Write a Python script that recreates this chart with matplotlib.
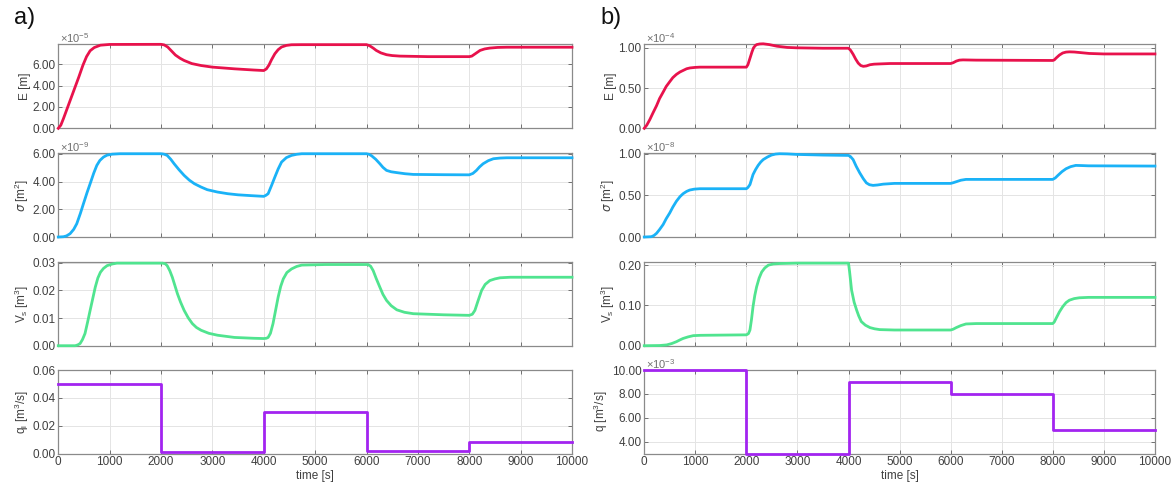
import numpy as np
import matplotlib.pyplot as plt

#### DATA ####
# a) column
tE_a = [0, 50, 100, 200, 300, 400, 480, 550, 620, 700, 820, 1000, 2000, 2060, 2130, 2200, 2280, 2370, 2450,
        2600, 2780, 3000, 3430, 3800, 4000, 4050, 4100, 4150, 4216, 4280, 4346, 4440, 4540, 4740, 6000,
        6060, 6130, 6190, 6280, 6390, 6500, 6650, 7200, 8000, 8050, 8120, 8210, 8300, 8400, 8550, 8730, 10000]
E_a = [0, 0.3, 0.9, 2.2, 3.5, 4.8, 5.9, 6.7, 7.25, 7.55, 7.77, 7.84, 7.85, 7.8, 7.6, 7.25, 6.85, 6.55, 6.34,
       6.05, 5.87, 5.72, 5.56, 5.45, 5.4, 5.55, 5.9, 6.4, 6.97, 7.35, 7.6, 7.75, 7.81, 7.82, 7.82,
       7.72, 7.5, 7.28, 7.05, 6.88, 6.8, 6.75, 6.7, 6.7, 6.75, 6.98, 7.28, 7.42, 7.5, 7.56, 7.58, 7.58]  # x1e-5

tS_a = [0, 100, 160, 230, 300, 360, 430, 490, 560, 620, 690, 750, 810, 880, 950, 1050, 1200, 2000, 2060,
        2120, 2190, 2255, 2350, 2450, 2550, 2650, 2780, 2900, 3100, 3300, 3500, 3760, 4000, 4040, 4085,
        4150, 4216, 4280, 4346, 4440, 4540, 4640, 4740, 6000, 6050, 6100, 6180, 6260, 6320, 6390, 6480,
        6590, 6750, 6910, 7500, 8000, 8070, 8140, 8200, 8270, 8370, 8470, 8600, 8730, 10000]
S_a = [0, 0.02, 0.08, 0.24, 0.55, 0.96, 1.7, 2.4, 3.2, 3.84, 4.6, 5.16, 5.52, 5.76, 5.9, 5.97, 6.0, 6.0, 5.97,
       5.88, 5.6, 5.28, 4.85, 4.44, 4.1, 3.84, 3.6, 3.41, 3.24, 3.12, 3.04, 2.98, 2.93, 3.0, 3.12,
       3.7, 4.32, 4.9, 5.4, 5.72, 5.88, 5.96, 6.0, 6.0, 5.96, 5.85, 5.6, 5.28, 5.02, 4.8, 4.7,
       4.64, 4.56, 4.51, 4.49, 4.48, 4.58, 4.8, 5.05, 5.28, 5.5, 5.64, 5.69, 5.71, 5.71]  # x1e-9

tV_a = [0, 330, 380, 425, 470, 520, 570, 620, 670, 720, 770, 820, 880, 950, 1050, 1140, 2030, 2080, 2120,
        2170, 2220, 2270, 2320, 2380, 2450, 2530, 2610, 2690, 2780, 2930, 3100, 3430, 3800, 4000, 4050,
        4085, 4130, 4180, 4230, 4280, 4330, 4380, 4450, 4540, 4640, 4740, 5200, 6030, 6080, 6130, 6190,
        6260, 6320, 6390, 6480, 6590, 6740, 6910, 7500, 8000, 8060, 8110, 8170, 8240, 8310, 8400, 8500,
        8600, 8800, 10000]
V_a = [0, 0, 0.0003, 0.0008, 0.0022, 0.0044, 0.0085, 0.0128, 0.017, 0.0212, 0.0245, 0.0266, 0.028, 0.029,
       0.0296, 0.0299, 0.0299, 0.0297, 0.029, 0.0272, 0.0248, 0.0218, 0.0188, 0.0158, 0.0128, 0.0101,
       0.008, 0.0066, 0.0056, 0.0045, 0.0038, 0.003, 0.0027, 0.0026, 0.0027, 0.003, 0.0045, 0.008, 0.0128,
       0.0176, 0.0215, 0.0242, 0.0265, 0.0278, 0.0287, 0.0292, 0.0294, 0.0294, 0.0288, 0.0272, 0.0243,
       0.0212, 0.0186, 0.0164, 0.0145, 0.013, 0.0121, 0.0116, 0.0112, 0.011, 0.0114, 0.0128, 0.0162, 0.02,
       0.0222, 0.0236, 0.0242, 0.0246, 0.0248, 0.0248]

tq = [0, 2000, 4000, 6000, 8000, 10000]
q_a = [0.05, 0.001, 0.03, 0.002, 0.008]

# b) column
tE_b = [0, 50, 110, 170, 240, 300, 370, 430, 500, 560, 630, 700, 765, 830, 895, 1000, 1090, 2000, 2030,
        2070, 2110, 2140, 2170, 2200, 2260, 2330, 2450, 2600, 2800, 2990, 3500, 4000, 4040, 4090, 4140,
        4190, 4240, 4290, 4350, 4420, 4500, 4610, 4810, 6000, 6050, 6110, 6170, 6240, 6500, 8000, 8030,
        8065, 8130, 8195, 8260, 8325, 8420, 8520, 8715, 9000, 10000]
E_b = [0, 0.04, 0.11, 0.19, 0.28, 0.37, 0.45, 0.52, 0.58, 0.63, 0.67, 0.70, 0.72, 0.74, 0.75, 0.757, 0.76,
       0.76, 0.79, 0.87, 0.95, 1.0, 1.025, 1.04, 1.048, 1.05, 1.04, 1.02, 1.005, 1.0, 0.995, 0.995, 0.97,
       0.92, 0.86, 0.81, 0.78, 0.77, 0.775, 0.79, 0.797, 0.80, 0.805, 0.805, 0.815, 0.835, 0.847, 0.85,
       0.847, 0.843, 0.85, 0.873, 0.91, 0.936, 0.947, 0.95, 0.948, 0.942, 0.93, 0.924, 0.924]  # x1e-4

tS_b = [0, 140, 190, 240, 300, 370, 430, 500, 560, 630, 700, 760, 830, 890, 980, 1090, 2000, 2030, 2070,
        2100, 2130, 2180, 2230, 2280, 2330, 2410, 2490, 2570, 2650, 2800, 2980, 3500, 4000, 4040, 4090,
        4150, 4220, 4290, 4350, 4410, 4480, 4570, 4680, 4900, 6000, 6050, 6110, 6200, 6300, 8000, 8050,
        8100, 8180, 8260, 8350, 8450, 8570, 8700, 10000]
S_b = [0, 0.004, 0.018, 0.044, 0.09, 0.15, 0.22, 0.29, 0.36, 0.43, 0.485, 0.52, 0.548, 0.564, 0.575, 0.58,
       0.58, 0.595, 0.63, 0.69, 0.75, 0.81, 0.86, 0.9, 0.93, 0.96, 0.984, 0.996, 1.0, 0.998, 0.992, 0.984,
       0.98, 0.965, 0.93, 0.85, 0.77, 0.7, 0.65, 0.628, 0.62, 0.625, 0.635, 0.644, 0.644, 0.652, 0.664,
       0.682, 0.692, 0.692, 0.71, 0.74, 0.785, 0.82, 0.845, 0.86, 0.858, 0.855, 0.852]  # x1e-8

tV_b = [0, 300, 440, 540, 630, 700, 760, 860, 960, 1100, 1220, 2000, 2040, 2070, 2100, 2130, 2165, 2200,
        2250, 2300, 2360, 2430, 2530, 2650, 3000, 4000, 4020, 4060, 4110, 4160, 4200, 4250, 4330, 4420,
        4510, 4610, 4900, 6000, 6050, 6110, 6200, 6300, 6500, 8000, 8030, 8065, 8130, 8195, 8260, 8325,
        8420, 8520, 8700, 10000]
V_b = [0, 0.0005, 0.002, 0.0055, 0.01, 0.0145, 0.018, 0.022, 0.025, 0.0258, 0.026, 0.027, 0.03, 0.039,
       0.065, 0.097, 0.125, 0.146, 0.168, 0.183, 0.193, 0.2, 0.203, 0.204, 0.205, 0.205, 0.185, 0.138,
       0.108, 0.088, 0.074, 0.06, 0.051, 0.045, 0.042, 0.04, 0.039, 0.039, 0.041, 0.045, 0.05, 0.054,
       0.055, 0.055, 0.059, 0.068, 0.084, 0.097, 0.107, 0.113, 0.117, 0.119, 0.12, 0.12]

q_b = [10, 3, 9, 8, 5]  # x1e-3

xticks = list(range(0, 10001, 1000))

#### STYLE ####
plt.rcParams['font.family'] = ['Liberation Sans', 'DejaVu Sans']
plt.rcParams['mathtext.default'] = 'regular'
txt = '#404040'
red, blue, green, purple = '#e8124c', '#1ab2f7', '#50e48f', '#a224f0'

fig = plt.figure(figsize=(11.75, 4.84), dpi=100)

lefts = [0.0496, 0.5483]
widths = [0.4372, 0.4346]
bottoms = [0.7349, 0.5103, 0.2857, 0.0630]
heights = [0.1746, 0.1729, 0.1723, 0.1725]


def make_ax(col, row):
    ax = fig.add_axes([lefts[col], bottoms[row], widths[col], heights[row]])
    ax.set_xlim(0, 10000)
    ax.set_xticks(xticks)
    ax.grid(True, color='#e4e4e4', lw=0.7)
    ax.set_axisbelow(True)
    ax.tick_params(direction='in', top=True, right=True, length=3, width=0.7,
                   color='#707070', labelsize=8.5, labelcolor=txt, pad=2)
    for s in ax.spines.values():
        s.set_color('#8a8a8a')
        s.set_linewidth(0.9)
    if row < 3:
        ax.set_xticklabels([])
    else:
        ax.set_xlabel('time [s]', fontsize=8.5, color=txt, labelpad=1)
    return ax


def exp_label(ax, s):
    ax.text(0.003, 0.99, r'$\times10^{' + s + '}$', transform=ax.transAxes,
            fontsize=8, color='#707070', va='bottom', ha='left')


def fmt(ax, ticks, dec=2):
    ax.set_yticks(ticks)
    ax.set_yticklabels([f'{v:.{dec}f}' for v in ticks])


lw = 2.0
line = dict(lw=lw, clip_on=False, zorder=3)
ylab = dict(fontsize=8.5, color=txt, labelpad=1)

#### a) ####
ax = make_ax(0, 0)
ax.plot(tE_a, E_a, color=red, **line)
ax.set_ylim(0, 7.9)
fmt(ax, [0, 2, 4, 6])
exp_label(ax, '-5')
ax.set_ylabel('E [m]', **ylab)

ax = make_ax(0, 1)
ax.plot(tS_a, S_a, color=blue, **line)
ax.set_ylim(0, 6.03)
fmt(ax, [0, 2, 4, 6])
exp_label(ax, '-9')
ax.set_ylabel(r'$\mathit{\sigma}$ [m$^2$]', **ylab)

ax = make_ax(0, 2)
ax.plot(tV_a, V_a, color=green, **line)
ax.set_ylim(0, 0.0302)
fmt(ax, [0, 0.01, 0.02, 0.03])
ax.set_ylabel('V$_s$ [m$^3$]', **ylab)

ax = make_ax(0, 3)
ax.step(tq, q_a + [q_a[-1]], where='post', color=purple, **line)
ax.set_ylim(0, 0.06)
fmt(ax, [0, 0.02, 0.04, 0.06])
ax.set_ylabel('q$_l$ [m$^3$/s]', **ylab)

#### b) ####
ax = make_ax(1, 0)
ax.plot(tE_b, E_b, color=red, **line)
ax.set_ylim(0, 1.05)
fmt(ax, [0, 0.5, 1.0])
exp_label(ax, '-4')
ax.set_ylabel('E [m]', **ylab)

ax = make_ax(1, 1)
ax.plot(tS_b, S_b, color=blue, **line)
ax.set_ylim(0, 1.005)
fmt(ax, [0, 0.5, 1.0])
exp_label(ax, '-8')
ax.set_ylabel(r'$\mathit{\sigma}$ [m$^2$]', **ylab)

ax = make_ax(1, 2)
ax.plot(tV_b, V_b, color=green, **line)
ax.set_ylim(0, 0.207)
fmt(ax, [0, 0.1, 0.2])
ax.set_ylabel('V$_s$ [m$^3$]', **ylab)

ax = make_ax(1, 3)
ax.step(tq, q_b + [q_b[-1]], where='post', color=purple, **line)
ax.set_ylim(3, 10)
fmt(ax, [4, 6, 8, 10])
exp_label(ax, '-3')
ax.set_ylabel('q [m$^3$/s]', **ylab)

fig.text(0.012, 0.963, 'a)', fontsize=17, color='#111111', va='center')
fig.text(0.511, 0.963, 'b)', fontsize=17, color='#111111', va='center')

fig.savefig('out.png', dpi=100)
